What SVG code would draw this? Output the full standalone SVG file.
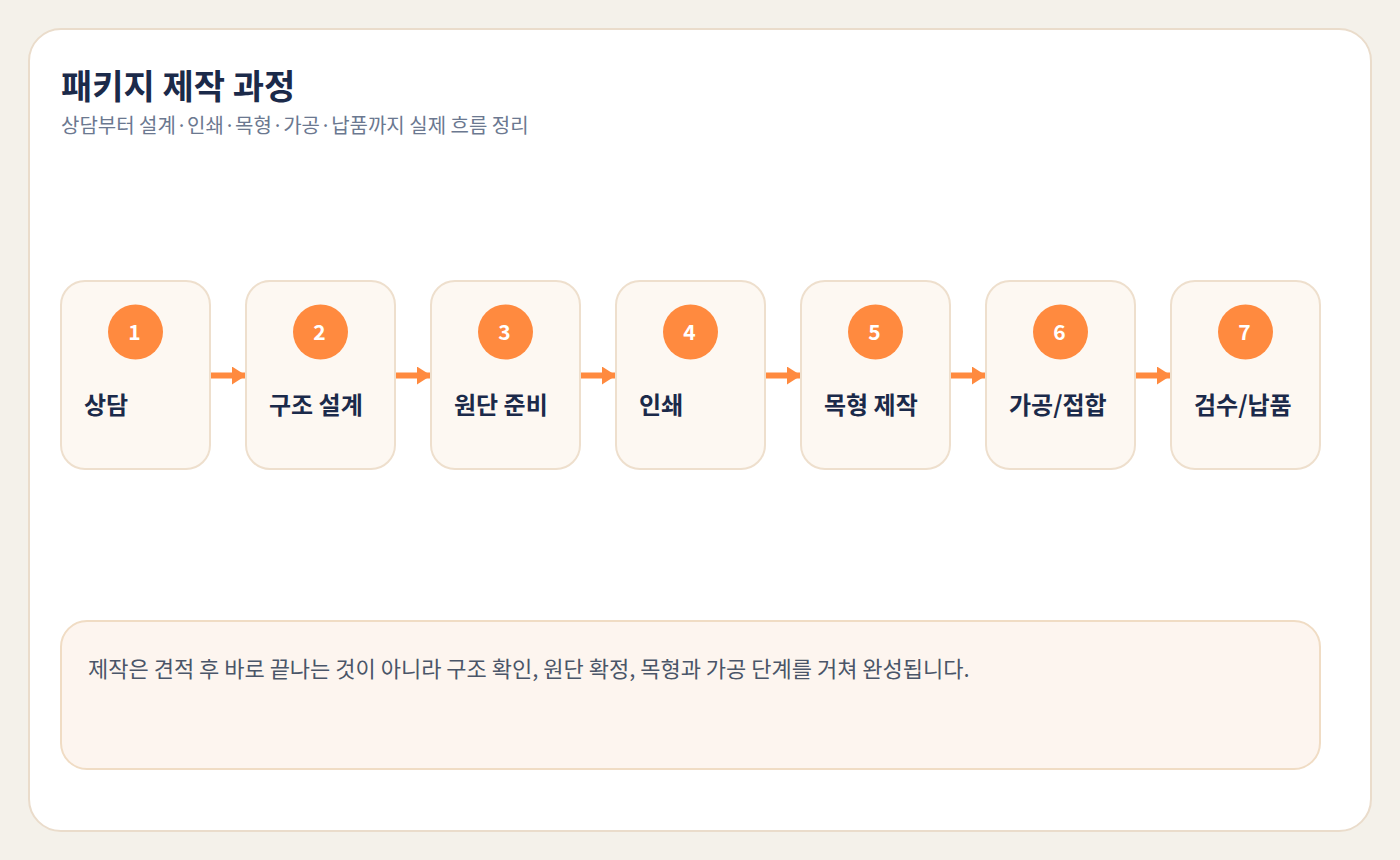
<svg xmlns="http://www.w3.org/2000/svg" width="1400" height="860" viewBox="0 0 1400 860">
<defs>
<style>
.t{font-family:"Noto Sans CJK KR","Noto Sans",sans-serif}
.node{fill:#fdf8f2;stroke:#eedfcd;stroke-width:2}
.num{fill:#ff8a3f}
.numt{font-family:"Noto Sans CJK KR","Noto Sans",sans-serif;font-weight:700;font-size:21px;fill:#ffffff;text-anchor:middle}
.lbl{font-family:"Noto Sans CJK KR",sans-serif;font-weight:700;font-size:24px;fill:#1b2a4a}
.conn{stroke:#ff8a3f;stroke-width:6;fill:none}
</style>
<marker id="ah" markerWidth="14" markerHeight="18" refX="13" refY="9" orient="auto" markerUnits="userSpaceOnUse">
<path d="M0,0 L14,9 L0,18 Z" fill="#ff8a3f"/>
</marker>
</defs>
<rect x="0" y="0" width="1400" height="860" fill="#f4f1ea"/>
<rect x="29" y="29" width="1342" height="802" rx="32" fill="#ffffff" stroke="#eadccb" stroke-width="2"/>
<text class="t" x="61" y="99" font-size="34" font-weight="700" fill="#1b2a4a">패키지 제작 과정</text>
<text class="t" x="61" y="133" font-size="20" fill="#6b7890">상담부터 설계·인쇄·목형·가공·납품까지 실제 흐름 정리</text>
<g id="connectors">
<line class="conn" x1="210" y1="375.5" x2="245" y2="375.5" marker-end="url(#ah)"/>
<line class="conn" x1="395" y1="375.5" x2="430" y2="375.5" marker-end="url(#ah)"/>
<line class="conn" x1="580" y1="375.5" x2="615" y2="375.5" marker-end="url(#ah)"/>
<line class="conn" x1="765" y1="375.5" x2="800" y2="375.5" marker-end="url(#ah)"/>
<line class="conn" x1="950" y1="375.5" x2="985" y2="375.5" marker-end="url(#ah)"/>
<line class="conn" x1="1135" y1="375.5" x2="1170" y2="375.5" marker-end="url(#ah)"/>
</g>
<g id="n1"><rect class="node" x="61" y="281" width="149" height="188" rx="24"/><circle class="num" cx="135.5" cy="332" r="27.5"/><text class="numt" x="134.5" y="339.5">1</text><text class="lbl" x="84" y="414">상담</text></g>
<g id="n2"><rect class="node" x="246" y="281" width="149" height="188" rx="24"/><circle class="num" cx="320.5" cy="332" r="27.5"/><text class="numt" x="319.5" y="339.5">2</text><text class="lbl" x="269" y="414">구조 설계</text></g>
<g id="n3"><rect class="node" x="431" y="281" width="149" height="188" rx="24"/><circle class="num" cx="505.5" cy="332" r="27.5"/><text class="numt" x="504.5" y="339.5">3</text><text class="lbl" x="454" y="414">원단 준비</text></g>
<g id="n4"><rect class="node" x="616" y="281" width="149" height="188" rx="24"/><circle class="num" cx="690.5" cy="332" r="27.5"/><text class="numt" x="689.5" y="339.5">4</text><text class="lbl" x="639" y="414">인쇄</text></g>
<g id="n5"><rect class="node" x="801" y="281" width="149" height="188" rx="24"/><circle class="num" cx="875.5" cy="332" r="27.5"/><text class="numt" x="874.5" y="339.5">5</text><text class="lbl" x="824" y="414">목형 제작</text></g>
<g id="n6"><rect class="node" x="986" y="281" width="149" height="188" rx="24"/><circle class="num" cx="1060.5" cy="332" r="27.5"/><text class="numt" x="1059.5" y="339.5">6</text><text class="lbl" x="1009" y="414">가공/접합</text></g>
<g id="n7"><rect class="node" x="1171" y="281" width="149" height="188" rx="24"/><circle class="num" cx="1245.5" cy="332" r="27.5"/><text class="numt" x="1244.5" y="339.5">7</text><text class="lbl" x="1194" y="414">검수/납품</text></g>
<g id="note"><rect x="61" y="621" width="1259" height="148" rx="26" fill="#fdf5ef" stroke="#f0dcc4" stroke-width="2"/>
<text class="t" x="88" y="677" font-size="22" fill="#4a5568">제작은 견적 후 바로 끝나는 것이 아니라 구조 확인, 원단 확정, 목형과 가공 단계를 거쳐 완성됩니다.</text></g>
</svg>
